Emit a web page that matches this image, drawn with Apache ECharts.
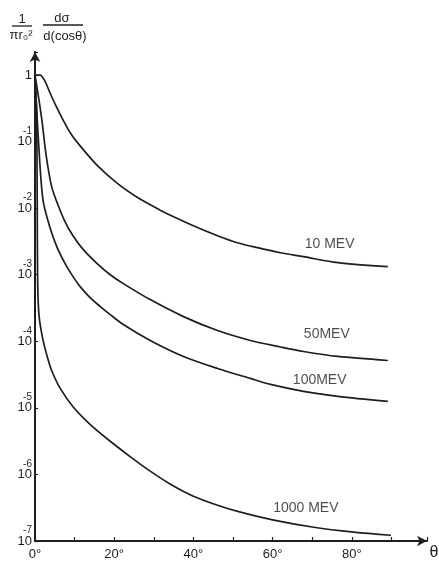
<!DOCTYPE html>
<html><head><meta charset="utf-8">
<script src="https://cdn.jsdelivr.net/npm/echarts@6/dist/echarts.min.js"></script>
<style>html,body{margin:0;padding:0;background:#fff;}#c{width:439px;height:561px;}</style>
</head><body><div id="c"></div>
<script>
// ---- data (theta in degrees, normalized cross-section) ----
const theta10 = [0, 1.3, 2.5, 3.8, 5.3, 7.1, 9.1, 11.4, 15.7, 20.8, 25.8, 29.1, 31.6, 34.2, 40.0, 46.1, 51.1, 56.2, 62.0, 67.8, 76.5, 89.1];
const val10   = [1.0, 1.0, 0.813, 0.537, 0.343, 0.211, 0.130, 0.0862, 0.044, 0.0236, 0.01456, 0.01125, 0.00931, 0.00783, 0.00545, 0.00386, 0.00303, 0.00255, 0.00214, 0.00187, 0.00152, 0.00132];

const theta50 = [0, 1.0, 1.8, 2.8, 4.1, 5.3, 7.6, 9.6, 12.2, 15.7, 19.0, 22.3, 29.1, 37.5, 46.1, 54.4, 62.0, 67.8, 76.5, 89.1];
const val50   = [1.0, 0.422, 0.197, 0.0632, 0.0224, 0.0134, 0.00625, 0.00386, 0.00238, 0.00147, 0.00100, 0.000736, 0.000423, 0.000235, 0.000145, 0.000103, 8.22e-5, 7.03e-5, 5.92e-5, 5.15e-5];

const theta100 = [0, 0.76, 2.0, 3.8, 5.6, 7.6, 9.6, 11.4, 13.9, 16.5, 19.0, 22.3, 29.1, 37.5, 46.1, 54.4, 59.5, 67.8, 76.5, 89.1];
const val100   = [1.0, 0.135, 0.0134, 0.00508, 0.00255, 0.00147, 0.000937, 0.000663, 0.000454, 0.000333, 0.000252, 0.000179, 0.000103, 5.92e-5, 3.91e-5, 2.77e-5, 2.25e-5, 1.77e-5, 1.49e-5, 1.25e-5];

const theta1000 = [0, 0.38, 0.56, 0.66, 1.0, 2.0, 3.3, 4.3, 6.3, 9.6, 13.9, 19.0, 24.1, 29.1, 34.2, 40.0, 46.1, 51.9, 60.3, 70.4, 80.5, 89.9];
const val1000   = [1.0, 0.3, 0.0134, 8.45e-4, 2.5e-4, 1.06e-4, 5.33e-5, 3.52e-5, 2.0e-5, 1.04e-5, 5.66e-6, 3.15e-6, 1.84e-6, 1.12e-6, 7.13e-7, 4.71e-7, 3.45e-7, 2.71e-7, 2.06e-7, 1.61e-7, 1.36e-7, 1.22e-7];

const seriesNames = ['10 MEV', '50MEV', '100MEV', '1000 MEV'];
const labelTheta  = [74.4, 73.7, 71.9, 68.4];
const labelValue  = [2.92e-3, 1.26e-4, 2.58e-5, 3.11e-7];

const xTickLabels = [0, 20, 40, 60, 80];
const yMin = 1e-7, yMax = 2.22;
const xMin = 0, xMax = 99;

// ---- chart ----
const ink = '#1e1e1e';
const font = 'Liberation Sans';
const chart = echarts.init(document.getElementById('c'), null, {renderer: 'canvas'});

function pairs(xs, ys) { return xs.map((t, i) => [t, ys[i]]); }
const allData = [pairs(theta10, val10), pairs(theta50, val50), pairs(theta100, val100), pairs(theta1000, val1000)];

const lineSeries = allData.map((d, i) => ({
  name: seriesNames[i], type: 'line', data: d, showSymbol: false, symbol: 'none',
  smooth: 0.3, silent: true,
  lineStyle: {color: ink, width: 1.7}
}));

const labelSeries = {
  type: 'scatter', symbolSize: 0, silent: true,
  data: seriesNames.map((n, i) => ({name: n, value: [labelTheta[i], labelValue[i]]})),
  label: {show: true, position: 'inside', formatter: p => p.name, color: ink,
          fontFamily: font, fontSize: 14}
};

chart.setOption({
  animation: false,
  backgroundColor: '#fff',
  grid: {left: 35, right: 12, top: 52, bottom: 19, containLabel: false},
  xAxis: {
    type: 'value', min: xMin, max: xMax, interval: 10,
    axisLine: {onZero: false, symbol: ['none', 'arrow'], symbolSize: [8, 10],
               lineStyle: {color: ink, width: 2}},
    axisTick: {inside: true, length: 4, lineStyle: {color: ink, width: 1.2}},
    splitLine: {show: false},
    axisLabel: {margin: 7, color: ink, fontFamily: font, fontSize: 13,
      formatter: v => (xTickLabels.indexOf(v) >= 0 ? v + '°' : '')}
  },
  yAxis: {
    type: 'log', logBase: 10, min: yMin, max: yMax,
    axisLine: {onZero: false, symbol: ['none', 'arrow'], symbolSize: [8, 10],
               lineStyle: {color: ink, width: 2}},
    axisTick: {inside: true, length: 3, lineStyle: {color: ink, width: 1.2}},
    splitLine: {show: false},
    axisLabel: {margin: 3, color: ink, fontFamily: font,
      formatter: function (v) {
        const l = Math.log10(v), e = Math.round(l);
        if (Math.abs(l - e) > 1e-6) return '';
        if (e === 0) return '{b|1}';
        return '{s|' + e + '}\n{b|10}\n{s| }';
      },
      rich: {
        b: {fontSize: 13, fontFamily: font, color: ink, lineHeight: 13, align: 'right'},
        s: {fontSize: 10, fontFamily: font, color: ink, lineHeight: 8, align: 'right'}
      }
    }
  },
  graphic: [
    {type: 'text', style: {text: '1', x: 22, y: 19, align: 'center', verticalAlign: 'middle', font: '13px ' + font, fill: ink}},
    {type: 'line', shape: {x1: 12, y1: 26, x2: 32, y2: 26}, style: {stroke: ink, lineWidth: 1.3}},
    {type: 'text', style: {text: 'πr₀²', x: 21, y: 35, align: 'center', verticalAlign: 'middle', font: '13px ' + font, fill: ink}},
    {type: 'text', style: {text: 'dσ', x: 62, y: 18, align: 'center', verticalAlign: 'middle', font: '13px ' + font, fill: ink}},
    {type: 'line', shape: {x1: 43, y1: 25, x2: 83, y2: 25}, style: {stroke: ink, lineWidth: 1.3}},
    {type: 'text', style: {text: 'd(cosθ)', x: 65, y: 36, align: 'center', verticalAlign: 'middle', font: '13px ' + font, fill: ink}},
    {type: 'text', style: {text: 'θ', x: 434, y: 553, align: 'center', verticalAlign: 'middle', font: '16px ' + font, fill: ink}}
  ],
  series: lineSeries.concat([labelSeries])
});
</script>
</body></html>
